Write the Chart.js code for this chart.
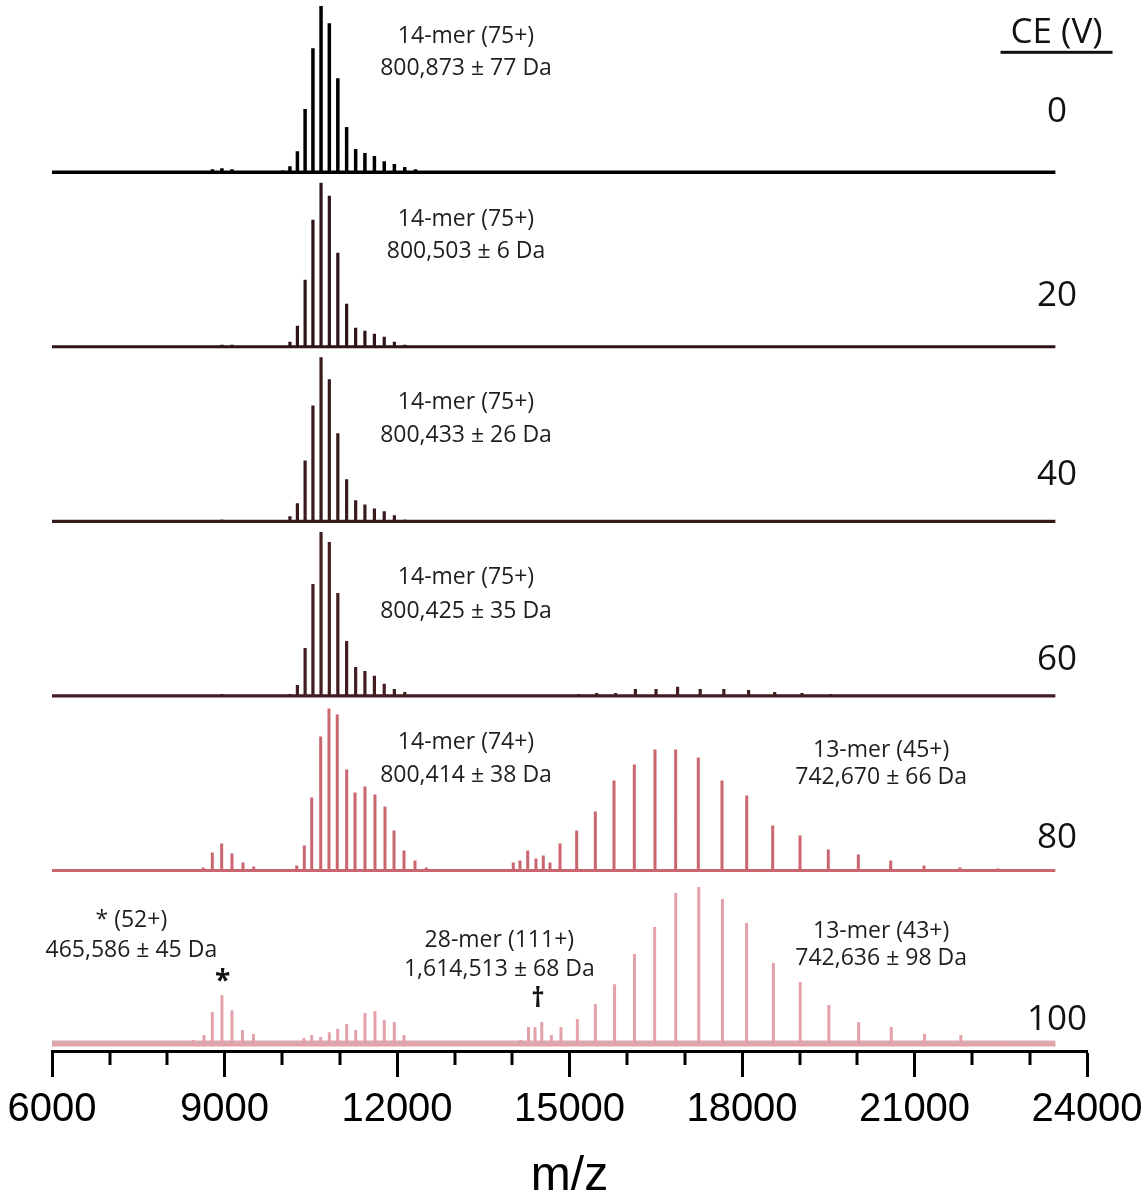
<!DOCTYPE html>
<html>
<head>
<meta charset="utf-8">
<script src="https://cdn.jsdelivr.net/npm/chart.js@4.4.1/dist/chart.umd.min.js"></script>
<style>
html, body { margin: 0; padding: 0; background: #fff; }
canvas { display: block; }
</style>
</head>
<body>
<canvas id="ms" width="1144" height="1200"></canvas>
<script>
// collision energies, top to bottom
const ceLevels = ['0', '20', '40', '60', '80', '100'];

// peak lists: m/z and height (% of one panel)
const mz0 = [8790, 8955, 9130, 10012, 10138, 10268, 10402, 10538, 10679, 10823, 10971, 11124, 11281, 11442, 11607, 11778, 11954, 12135, 12321];
const int0 = [1.7, 2.3, 1.7, 1.1, 3.4, 12.0, 36.1, 71.0, 95.1, 85.3, 53.8, 25.8, 13.2, 10.9, 9.2, 6.3, 4.6, 2.9, 1.7];

const mz20 = [8955, 9130, 10138, 10268, 10402, 10538, 10679, 10823, 10971, 11124, 11281, 11442, 11607, 11778, 11954, 12135];
const int20 = [1.1, 1.1, 2.9, 12.0, 38.4, 72.7, 93.9, 86.5, 53.8, 24.6, 10.9, 9.2, 7.4, 5.7, 2.9, 1.1];

const mz40 = [8955, 10138, 10268, 10402, 10538, 10679, 10823, 10971, 11124, 11281, 11442, 11607, 11778, 11954, 12135];
const int40 = [1.1, 2.9, 10.3, 34.9, 66.4, 93.9, 81.3, 50.4, 24.1, 12.0, 9.7, 7.4, 5.7, 3.4, 1.1];

const mz60 = [8955, 10138, 10268, 10402, 10538, 10679, 10823, 10971, 11124, 11281, 11442, 11607, 11778, 11954, 12135,
  15158, 15473, 15803, 16146, 16505, 16880, 17273, 17684, 18115, 18568, 19044, 19545, 20074, 20631];
const int60 = [1.1, 1.1, 6.3, 27.5, 64.1, 93.9, 88.2, 59.0, 31.5, 16.6, 14.3, 11.5, 6.9, 4.0, 2.3,
  1.1, 1.7, 1.7, 4.0, 4.0, 5.2, 4.0, 4.0, 3.4, 2.3, 1.7, 1.1, 0.9, 0.6];

const mz80 = [8631, 8788, 8951, 9130, 9322, 9508,
  10256, 10388, 10517, 10673, 10817, 10961, 11125, 11270, 11443, 11617, 11791, 11948, 12122, 12313, 12510,
  14022, 14139, 14273, 14417, 14544, 14661, 14835, 15125, 15449, 15774, 16127, 16487, 16846, 17240, 17652,
  18082, 18534, 19009, 19501, 20023, 20586, 21165, 21791, 22452];
const int80 = [1.7, 10.3, 15.5, 9.7, 4.6, 2.3,
  2.9, 14.3, 41.8, 76.7, 92.8, 89.3, 57.8, 44.7, 48.1, 43.5, 36.7, 22.9, 11.5, 5.7, 1.7,
  4.6, 5.7, 11.5, 6.9, 8.6, 4.6, 15.5, 22.9, 33.8, 51.5, 60.7, 69.3, 69.3, 64.7, 51.5,
  43.0, 25.8, 20.0, 12.0, 9.2, 5.7, 2.9, 1.7, 1.1];

const mz100 = [8453, 8643, 8788, 8955, 9130, 9313, 9503, 9700,
  10382, 10516, 10673, 10823, 10969, 11125, 11282, 11443, 11617, 11779, 11953, 12122, 12300,
  14150, 14287, 14400, 14518, 14685, 14852, 15137, 15450, 15784, 16130, 16481, 16848, 17248, 17660,
  18079, 18546, 19012, 19511, 20029, 20596, 21175, 21806, 22500];
const int100 = [2.9, 5.7, 18.9, 28.6, 20.0, 8.6, 6.3, 1.7,
  4.0, 5.7, 4.6, 7.4, 9.2, 12.0, 8.6, 18.3, 19.5, 14.3, 13.2, 5.7, 2.3,
  2.9, 10.3, 10.3, 13.2, 5.7, 10.3, 14.9, 23.5, 34.9, 52.1, 67.6, 87.1, 90.5, 83.6,
  69.9, 47.0, 36.1, 22.9, 13.2, 10.3, 6.3, 5.7, 2.3];

const xTicksMajor = [6000, 9000, 12000, 15000, 18000, 21000, 24000];

// annotation text per panel
const note0 = ['14-mer (75+)', '800,873 \u00b1 77 Da'];
const note20 = ['14-mer (75+)', '800,503 \u00b1 6 Da'];
const note40 = ['14-mer (75+)', '800,433 \u00b1 26 Da'];
const note60 = ['14-mer (75+)', '800,425 \u00b1 35 Da'];
const note80a = ['14-mer (74+)', '800,414 \u00b1 38 Da'];
const note80b = ['13-mer (45+)', '742,670 \u00b1 66 Da'];
const note100a = ['* (52+)', '465,586 \u00b1 45 Da'];
const note100b = ['28-mer (111+)', '1,614,513 \u00b1 68 Da'];
const note100c = ['13-mer (43+)', '742,636 \u00b1 98 Da'];

const TRACE_START = 6000, TRACE_END = 23450;
const panelBase = [500, 400, 300, 200, 100, 0];
const colors = ['#000000', '#2e1416', '#381a1d', '#421d21', '#c9666f', '#e3a2aa'];
const widths = [3.5, 3.2, 3.2, 3.2, 3, 3];

function trace(base, mz, inten) {
  const pts = [{ x: TRACE_START, y: base }];
  mz.forEach((m, i) => {
    pts.push({ x: m, y: base }, { x: m, y: base + inten[i] }, { x: m, y: base });
  });
  pts.push({ x: TRACE_END, y: base });
  return pts;
}

const peakSets = [[mz0, int0], [mz20, int20], [mz40, int40], [mz60, int60], [mz80, int80], [mz100, int100]];
const datasets = peakSets.map((p, i) => ({
  label: 'CE ' + ceLevels[i],
  data: trace(panelBase[i], p[0], p[1]),
  borderColor: colors[i],
  borderWidth: widths[i],
  borderJoinStyle: 'bevel',
  pointRadius: 0,
  tension: 0,
  fill: false
}));
// grassy baseline of the 100 V trace, drawn underneath
datasets.push({
  label: 'base100',
  data: [{ x: TRACE_START, y: 1.2 }, { x: TRACE_END, y: 1.2 }],
  borderColor: '#d9aab0',
  borderWidth: 5,
  pointRadius: 0,
  fill: false
});

const extras = {
  id: 'extras',
  afterDraw(chart) {
    const ctx = chart.ctx, xs = chart.scales.x, ys = chart.scales.y, area = chart.chartArea;
    ctx.save();
    // minor ticks every 1000
    ctx.strokeStyle = '#000';
    ctx.lineWidth = 3;
    for (let v = 6000; v <= 24000; v += 1000) {
      if (xTicksMajor.includes(v)) continue;
      const px = Math.round(xs.getPixelForValue(v));
      ctx.beginPath();
      ctx.moveTo(px, area.bottom);
      ctx.lineTo(px, area.bottom + 14);
      ctx.stroke();
    }

    const put = (txt, mz, v, font, color) => {
      ctx.font = font;
      ctx.fillStyle = color || '#1e1e1e';
      ctx.textAlign = 'center';
      ctx.textBaseline = 'middle';
      ctx.fillText(txt, xs.getPixelForValue(mz), ys.getPixelForValue(v));
    };
    const noteFont = '23px "Open Sans"';
    const two = (lines, mz, v1, v2) => { put(lines[0], mz, v1, noteFont); put(lines[1], mz, v2, noteFont); };
    two(note0, 13200, 578, 559.6);
    two(note20, 13200, 473, 454.8);
    two(note40, 13200, 368.3, 349.4);
    two(note60, 13200, 268, 248.6);
    two(note80a, 13200, 173.5, 154.6);
    two(note80b, 20420, 169, 153.5);
    two(note100a, 7380, 71.6, 54.4);
    two(note100b, 13780, 60.1, 43.5);
    two(note100c, 20420, 65.3, 49.8);
    put('*', 8969, 36, 'bold 28px "Open Sans"', '#111');
    put('\u2020', 14452, 25.8, 'bold 26px "Open Sans"', '#111');

    // collision energy column
    const ceFont = '35px "Open Sans"';
    const ceY = [534.4, 429, 326.5, 220.5, 118.6, 14.3];
    ceLevels.forEach((c, i) => put(c, 23478, ceY[i], ceFont, '#111'));
    put('CE (V)', 23470, 579.6, ceFont, '#111');
    ctx.fillStyle = '#111';
    const ux = xs.getPixelForValue(23470);
    ctx.fillRect(ux - 56, ys.getPixelForValue(569.5), 112, 3);
    ctx.restore();
  }
};

new Chart(document.getElementById('ms'), {
  type: 'line',
  data: { datasets },
  options: {
    responsive: false,
    devicePixelRatio: 1,
    animation: false,
    layout: { padding: { left: 52, right: 57, top: 0, bottom: 0 } },
    plugins: { legend: { display: false }, tooltip: { enabled: false } },
    scales: {
      x: {
        type: 'linear',
        min: 6000,
        max: 24000,
        afterFit: (s) => { s.height = 149; s.paddingLeft = 0; s.paddingRight = 0; },
        border: { display: true, color: '#000', width: 3 },
        grid: {
          drawOnChartArea: false,
          drawTicks: true,
          tickLength: 26,
          tickWidth: 3,
          tickColor: (c) => (c.tick && xTicksMajor.includes(c.tick.value)) ? '#000' : 'rgba(0,0,0,0)'
        },
        ticks: {
          stepSize: 1000,
          autoSkip: false,
          maxRotation: 0,
          padding: 9,
          color: '#000',
          font: { family: '"Liberation Sans", Arial, sans-serif', size: 40 },
          callback: (v) => xTicksMajor.includes(v) ? String(v) : ''
        },
        title: {
          display: true,
          text: 'm/z',
          color: '#000',
          font: { family: '"Liberation Sans", Arial, sans-serif', size: 48 },
          padding: { top: 0, bottom: -6 }
        }
      },
      y: { type: 'linear', display: false, min: -3.4, max: 598.6 }
    }
  },
  plugins: [extras]
});
</script>
</body>
</html>
